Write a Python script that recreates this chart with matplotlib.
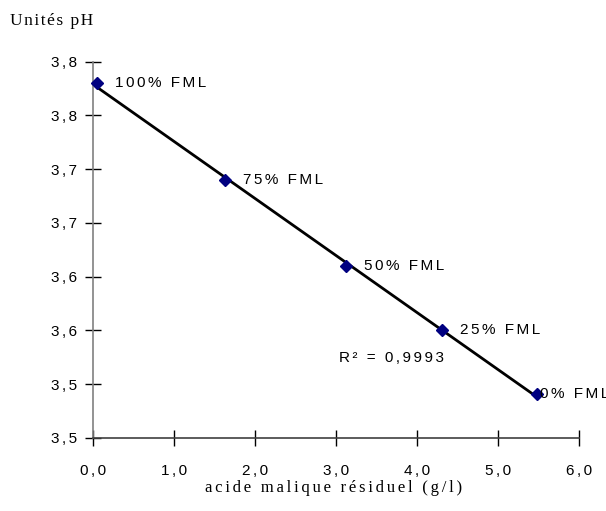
import matplotlib
matplotlib.use("Agg")
import matplotlib.pyplot as plt
import numpy as np
from decimal import Decimal, ROUND_HALF_UP
from matplotlib.ticker import FuncFormatter, MultipleLocator

# acide malique residuel (g/l) vs pH
acide = [0.04, 1.62, 3.12, 4.30, 5.48]
ph = [3.780, 3.690, 3.610, 3.550, 3.491]
etiquettes = ["100% FML", "75% FML", "50% FML", "25% FML", "0% FML"]
r2_texte = "R² = 0,9993"

SANS = ["Liberation Sans", "DejaVu Sans"]
SERIF = ["Liberation Serif", "DejaVu Serif"]


def espace(s, sp="\u2006"):
    # the original text is drawn letter-spaced
    return sp.join(s)


def fmt_virgule(v, pos):
    # rounding like the spreadsheet did (3.45 -> 3,5)
    d = Decimal(str(round(float(v), 6))).quantize(Decimal("0.1"), rounding=ROUND_HALF_UP)
    return espace(str(d).replace(".", ","))


fig = plt.figure(figsize=(6.06, 5.11), dpi=100)
ax = fig.add_axes([0.154, 0.1429, 0.802, 0.7364])

# trend line (linear fit)
a, b = np.polyfit(acide, ph, 1)
xs = np.array([min(acide), max(acide)])
ax.plot(xs, a * xs + b, color="black", linewidth=2.0, zorder=2)
ax.plot(acide, ph, linestyle="none", marker="D", markersize=6.5,
        color="#000080", zorder=3, clip_on=False)

for x, y, t in zip(acide, ph, etiquettes):
    dx = 2 if t.startswith("0%") else 13
    ax.annotate(espace(t), (x, y), xytext=(dx, 0), textcoords="offset points",
                va="center", ha="left", fontsize=11,
                family=SANS, annotation_clip=False)

ax.text(3.03, 3.524, espace(r2_texte), fontsize=11, va="center", ha="left",
        family=SANS)

ax.set_xlim(0, 6)
ax.set_ylim(3.45, 3.80)
ax.xaxis.set_major_locator(MultipleLocator(1))
ax.yaxis.set_major_locator(MultipleLocator(0.05))
ax.xaxis.set_major_formatter(FuncFormatter(fmt_virgule))
ax.yaxis.set_major_formatter(FuncFormatter(fmt_virgule))

for s in ["top", "right"]:
    ax.spines[s].set_visible(False)
ax.spines["left"].set_color("#808080")
ax.spines["left"].set_linewidth(1.2)
ax.spines["bottom"].set_color("#404040")
ax.spines["bottom"].set_linewidth(1.2)

ax.tick_params(axis="both", direction="inout", length=12, width=1,
               color="black", labelsize=11)
ax.tick_params(axis="x", pad=13)
ax.tick_params(axis="y", pad=6)
for lab in ax.get_xticklabels() + ax.get_yticklabels():
    lab.set_family(SANS)

fig.text(0.017, 0.958, espace("Unités pH", "\u200a"), family=SERIF, fontsize=12.5,
         va="center", ha="left")
fig.text(0.55, 0.045, espace("acide malique résiduel (g/l)", "\u2006"),
         family=SERIF, fontsize=12, va="center", ha="center")

fig.savefig("out.png", dpi=100)
